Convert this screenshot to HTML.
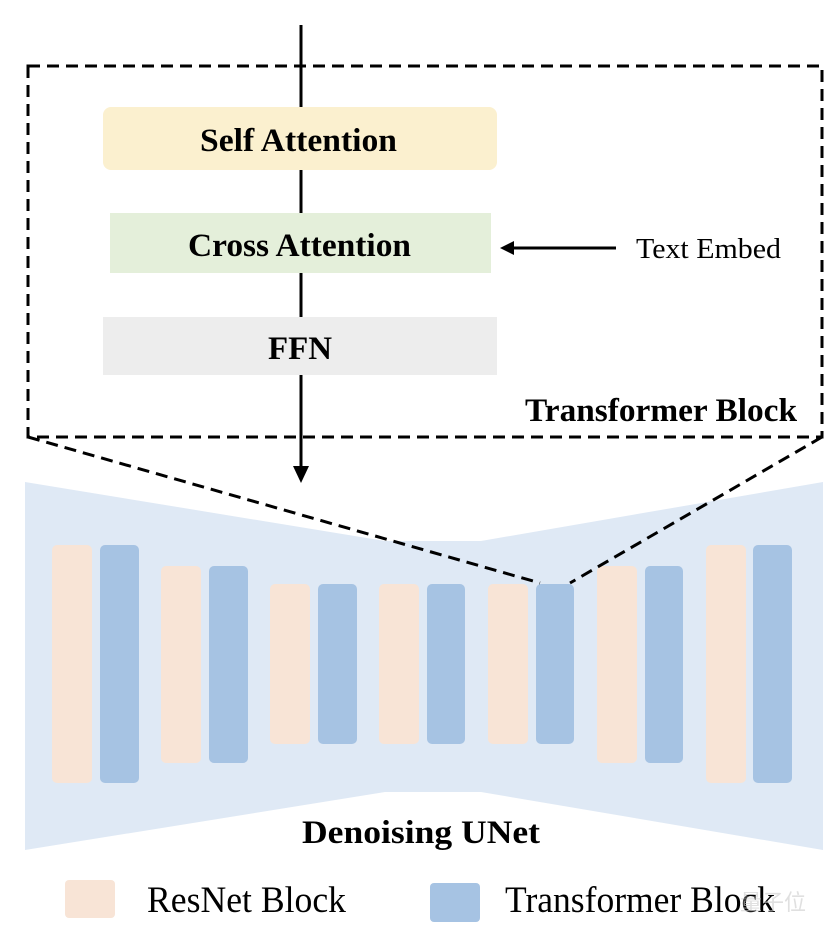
<!DOCTYPE html>
<html><head><meta charset="utf-8"><style>
body{margin:0;background:#fff;}
svg{display:block}
text{font-family:"Liberation Serif",serif;}
</style></head><body>
<svg width="834" height="934" viewBox="0 0 834 934" xmlns="http://www.w3.org/2000/svg">
<polygon points="25,482 385,541 481,541 823,482 823,850 481,792 385,792 25,850" fill="#dfe9f5"/>
<g fill="#f8e4d6">
<rect x="52" y="545" width="40" height="238" rx="5"/>
<rect x="161" y="566" width="40" height="197" rx="5"/>
<rect x="270" y="584" width="40" height="160" rx="5"/>
<rect x="379" y="584" width="40" height="160" rx="5"/>
<rect x="488" y="584" width="40" height="160" rx="5"/>
<rect x="597" y="566" width="40" height="197" rx="5"/>
<rect x="706" y="545" width="40" height="238" rx="5"/>
</g>
<g fill="#a6c3e3">
<rect x="100" y="545" width="39" height="238" rx="5"/>
<rect x="209" y="566" width="39" height="197" rx="5"/>
<rect x="318" y="584" width="39" height="160" rx="5"/>
<rect x="427" y="584" width="38" height="160" rx="5"/>
<rect x="536" y="584" width="38" height="160" rx="5"/>
<rect x="645" y="566" width="38" height="197" rx="5"/>
<rect x="753" y="545" width="39" height="238" rx="5"/>
</g>
<rect x="103" y="107" width="394" height="63" rx="8" fill="#fbf0cf"/>
<rect x="110" y="213" width="381" height="60" fill="#e4efda"/>
<rect x="103" y="317" width="394" height="58" fill="#ededed"/>
<g stroke="#000" stroke-width="3" fill="none">
<line x1="301" y1="25" x2="301" y2="107"/>
<line x1="301" y1="170" x2="301" y2="213"/>
<line x1="301" y1="273" x2="301" y2="317"/>
<line x1="301" y1="375" x2="301" y2="470"/>
<line x1="512" y1="248" x2="616" y2="248"/>
</g>
<polygon points="293,466 309,466 301,483" fill="#000"/>
<polygon points="500,248 514,241 514,255" fill="#000"/>
<g stroke="#000" stroke-width="3" fill="none" stroke-dasharray="12,7">
<rect x="28" y="66" width="794" height="371"/>
<line x1="28" y1="437" x2="540" y2="583"/>
<line x1="822" y1="437" x2="570" y2="583"/>
</g>
<g font-weight="bold" font-size="33" lengthAdjust="spacingAndGlyphs">
<text x="200" y="151" textLength="197" lengthAdjust="spacingAndGlyphs">Self Attention</text>
<text x="188" y="256" textLength="223" lengthAdjust="spacingAndGlyphs">Cross Attention</text>
<text x="268" y="359" textLength="64" lengthAdjust="spacingAndGlyphs">FFN</text>
<text x="302" y="843" textLength="238" lengthAdjust="spacingAndGlyphs">Denoising UNet</text>
<text x="525" y="421" textLength="272" lengthAdjust="spacingAndGlyphs">Transformer Block</text>
</g>
<text x="636" y="258" font-size="28" textLength="145" lengthAdjust="spacingAndGlyphs">Text Embed</text>
<rect x="65" y="880" width="50" height="38" rx="4" fill="#f8e4d6"/>
<rect x="430" y="883" width="50" height="39" rx="4" fill="#a6c3e3"/>
<text x="147" y="912" font-size="37" textLength="199" lengthAdjust="spacingAndGlyphs">ResNet Block</text>
<text x="505" y="912" font-size="37" textLength="270" lengthAdjust="spacingAndGlyphs">Transformer Block</text>
<text x="740" y="910" font-size="22" fill="#ccc" font-family="'Liberation Sans','Noto Sans CJK SC',sans-serif" opacity="0.6">量子位</text>
</svg>
</body></html>
